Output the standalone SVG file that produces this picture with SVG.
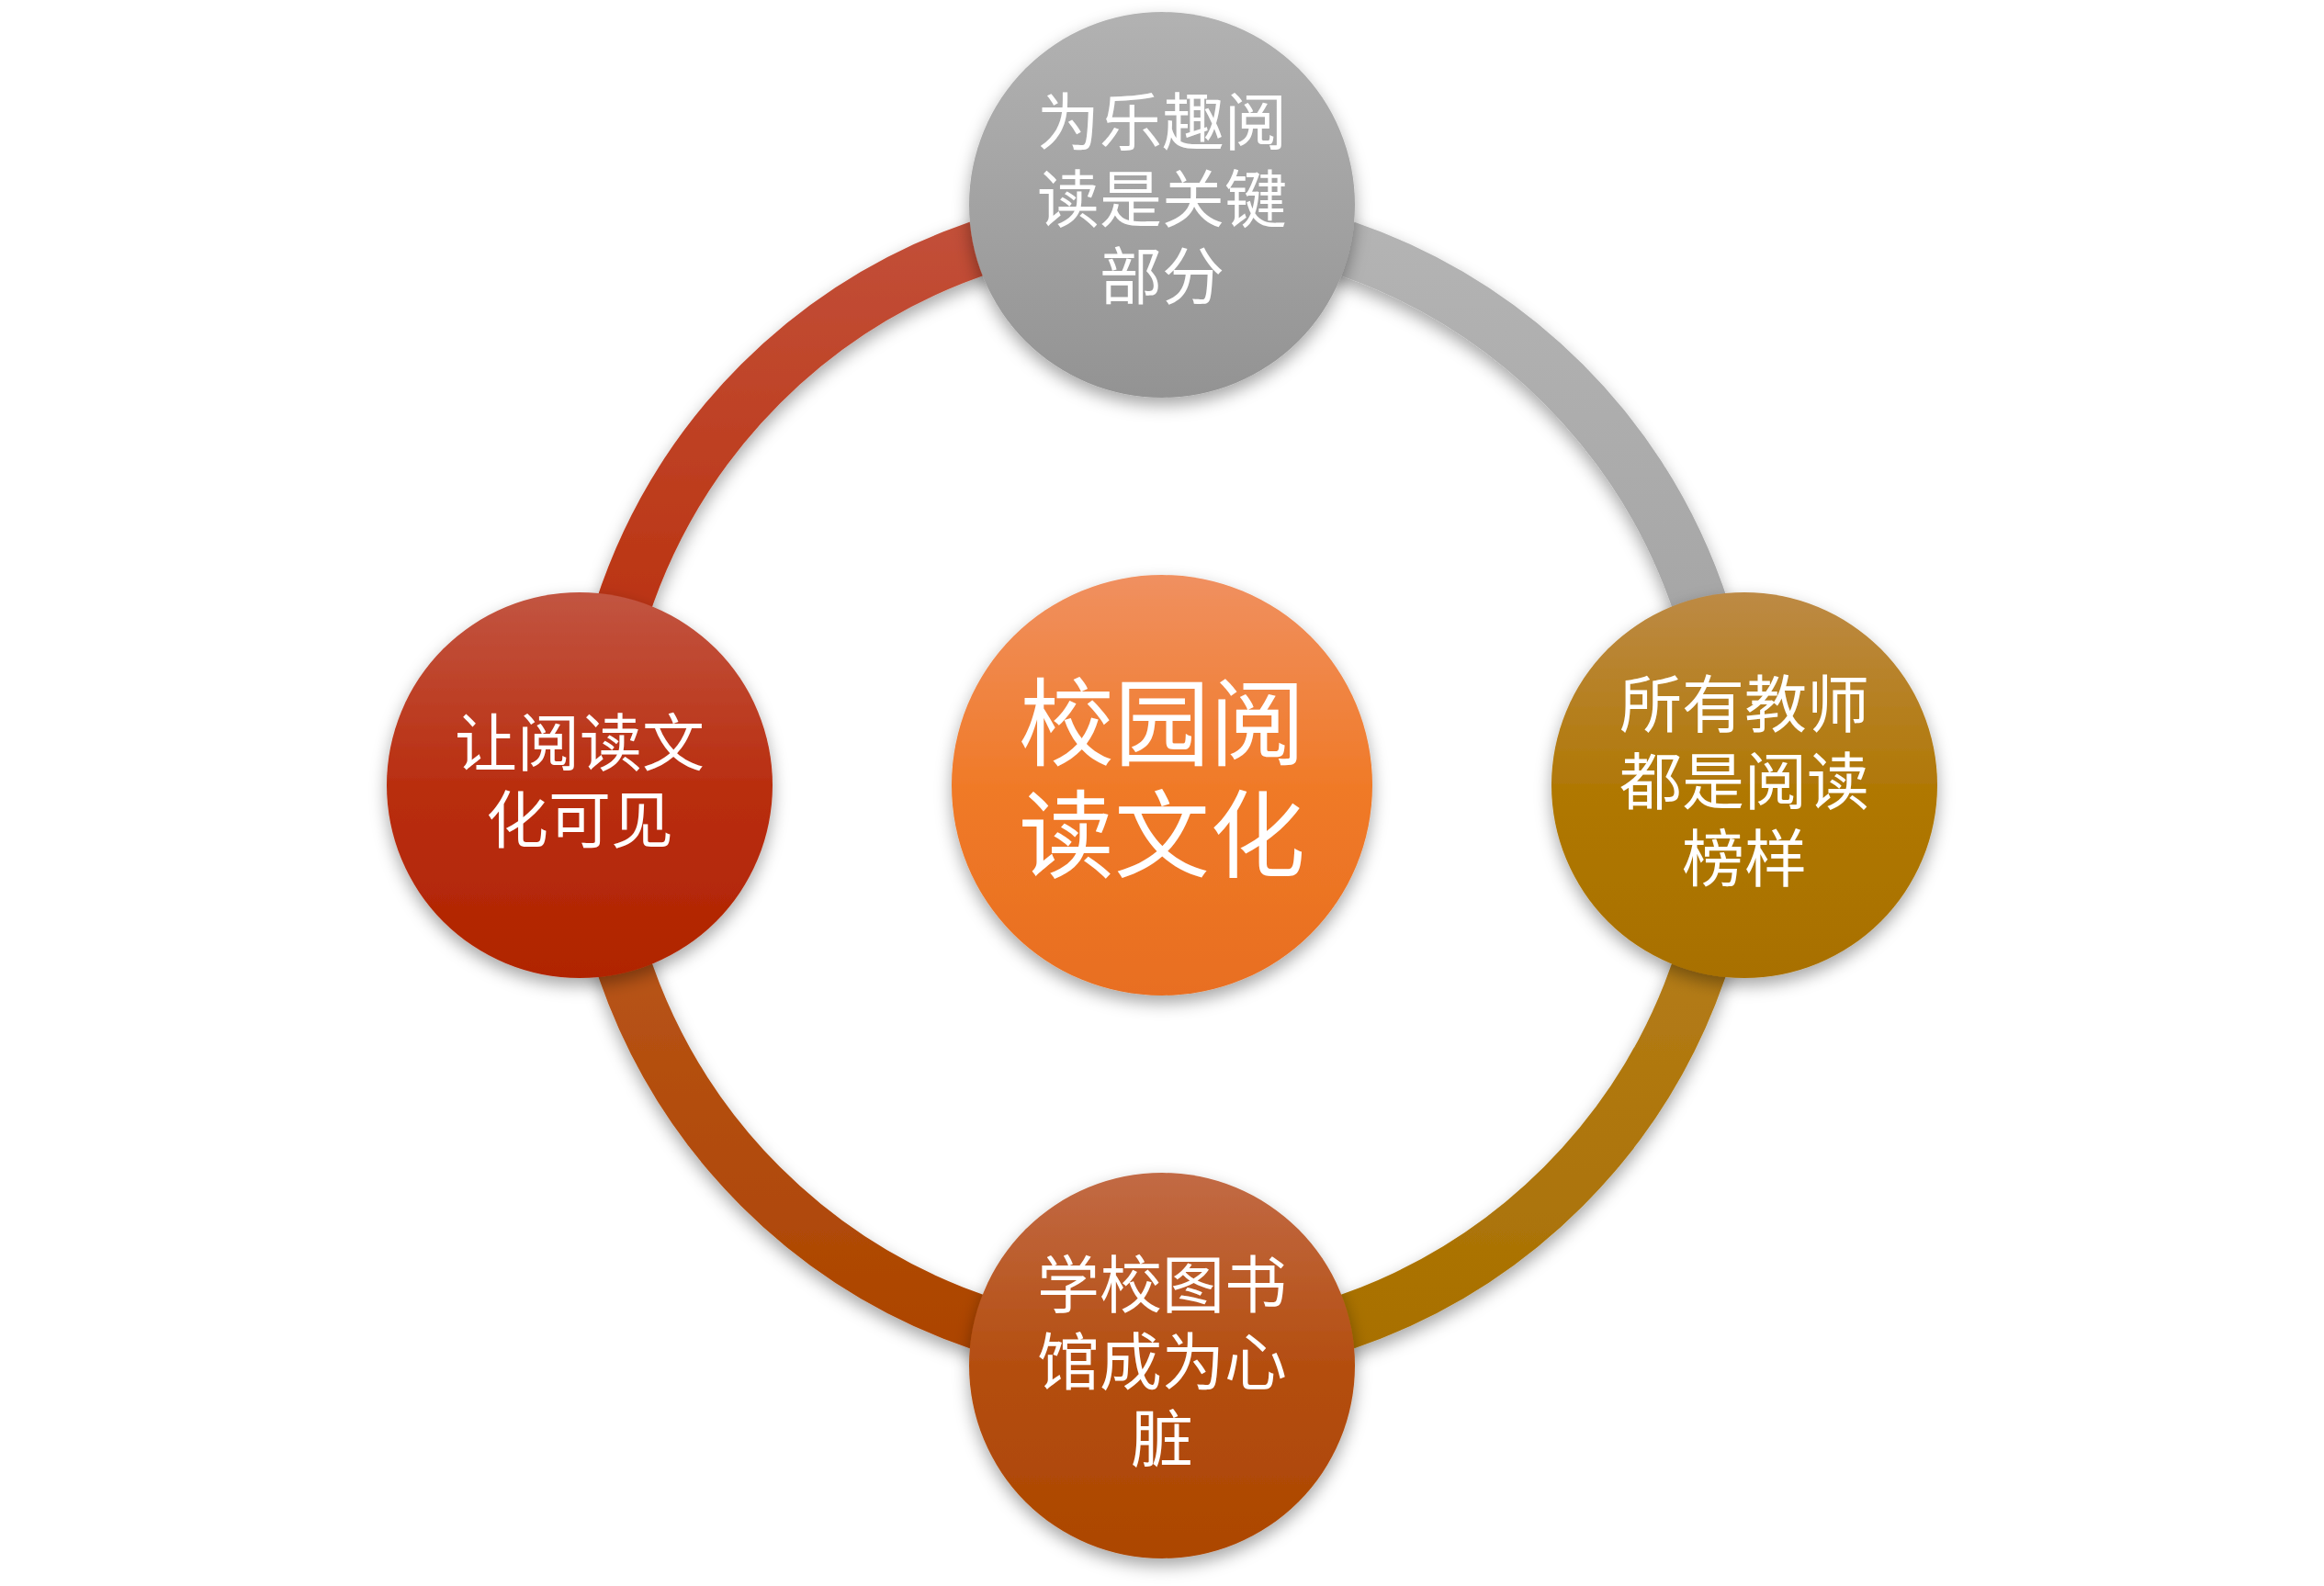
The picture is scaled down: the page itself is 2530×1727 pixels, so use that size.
<svg xmlns="http://www.w3.org/2000/svg" width="2530" height="1727" viewBox="0 0 2530 1727">
<defs>
<filter id="sh" x="-20%" y="-20%" width="140%" height="140%"><feDropShadow dx="0" dy="8" stdDeviation="9" flood-color="#000" flood-opacity="0.35"/></filter>
<linearGradient id="gTop" x1="0" y1="0" x2="0" y2="1"><stop offset="0" stop-color="#b2b2b2"/><stop offset="1" stop-color="#939393"/></linearGradient>
<linearGradient id="gLeft" x1="0" y1="0" x2="0" y2="1"><stop offset="0" stop-color="#c25541"/><stop offset="0.5" stop-color="#b92e10"/><stop offset="1" stop-color="#b02400"/></linearGradient>
<linearGradient id="gRight" x1="0" y1="0" x2="0" y2="1"><stop offset="0" stop-color="#bd8a45"/><stop offset="0.5" stop-color="#b07806"/><stop offset="1" stop-color="#a87000"/></linearGradient>
<linearGradient id="gBot" x1="0" y1="0" x2="0" y2="1"><stop offset="0" stop-color="#c26a45"/><stop offset="0.5" stop-color="#b44e10"/><stop offset="1" stop-color="#ac4600"/></linearGradient>
<linearGradient id="gCen" x1="0" y1="0" x2="0" y2="1"><stop offset="0" stop-color="#f09060"/><stop offset="0.5" stop-color="#f07a28"/><stop offset="1" stop-color="#e86e20"/></linearGradient>
<linearGradient id="aTL" gradientUnits="userSpaceOnUse" x1="0" y1="237" x2="0" y2="855"><stop offset="0" stop-color="#c2503a"/><stop offset="1" stop-color="#b82800"/></linearGradient>
<linearGradient id="aTR" gradientUnits="userSpaceOnUse" x1="0" y1="237" x2="0" y2="855"><stop offset="0" stop-color="#b4b4b4"/><stop offset="1" stop-color="#a0a0a0"/></linearGradient>
<linearGradient id="aBR" gradientUnits="userSpaceOnUse" x1="0" y1="855" x2="0" y2="1473"><stop offset="0" stop-color="#b88020"/><stop offset="1" stop-color="#a87000"/></linearGradient>
<linearGradient id="aBL" gradientUnits="userSpaceOnUse" x1="0" y1="855" x2="0" y2="1473"><stop offset="0" stop-color="#bc5a20"/><stop offset="1" stop-color="#ac4400"/></linearGradient>
</defs>
<style>
.arc{fill:none;stroke-width:60}
.t{font-family:"Noto Sans CJK SC","Liberation Sans",sans-serif;fill:#fff;text-anchor:middle;font-size:68px}
.c{font-size:104px}
</style>
<g id="connectors" filter="url(#sh)">
<path class="arc" stroke="url(#aTL)" d="M647 855 A618 618 0 0 1 1265 237"/>
<path class="arc" stroke="url(#aTR)" d="M1265 237 A618 618 0 0 1 1883 855"/>
<path class="arc" stroke="url(#aBR)" d="M1883 855 A618 618 0 0 1 1265 1473"/>
<path class="arc" stroke="url(#aBL)" d="M1265 1473 A618 618 0 0 1 647 855"/>
</g>
<g id="center"><circle cx="1265" cy="855" r="229" fill="url(#gCen)" filter="url(#sh)"/>
<text class="t c" x="1265" y="826">校园阅</text><text class="t c" x="1265" y="948">读文化</text></g>
<g id="top"><circle cx="1265" cy="223" r="210" fill="url(#gTop)" filter="url(#sh)"/>
<text class="t" x="1265" y="158">为乐趣阅</text><text class="t" x="1265" y="242">读是关键</text><text class="t" x="1265" y="326">部分</text></g>
<g id="left"><circle cx="631" cy="855" r="210" fill="url(#gLeft)" filter="url(#sh)"/>
<text class="t" x="631" y="834">让阅读文</text><text class="t" x="631" y="918">化可见</text></g>
<g id="right"><circle cx="1899" cy="855" r="210" fill="url(#gRight)" filter="url(#sh)"/>
<text class="t" x="1899" y="792">所有教师</text><text class="t" x="1899" y="876">都是阅读</text><text class="t" x="1899" y="960">榜样</text></g>
<g id="bottom"><circle cx="1265" cy="1487" r="210" fill="url(#gBot)" filter="url(#sh)"/>
<text class="t" x="1265" y="1424">学校图书</text><text class="t" x="1265" y="1508">馆成为心</text><text class="t" x="1265" y="1592">脏</text></g>
</svg>
